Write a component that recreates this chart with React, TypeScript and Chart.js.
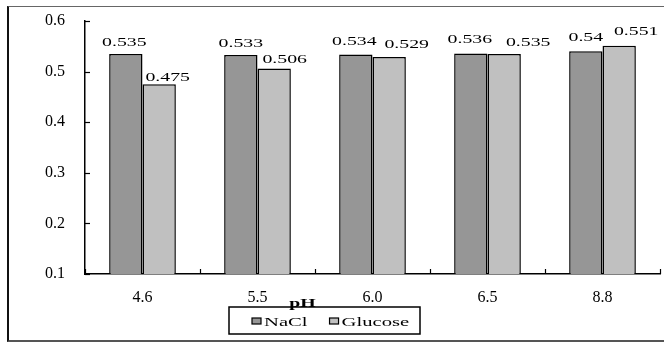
import React, { useEffect, useRef } from "react";
import { Chart, registerables } from "chart.js";

Chart.register(...registerables);

const categories = ["4.6", "5.5", "6.0", "6.5", "8.8"];
const naclValues = [0.535, 0.533, 0.534, 0.536, 0.54];
const glucoseValues = [0.475, 0.506, 0.529, 0.535, 0.551];
const naclLabels = ["0.535", "0.533", "0.534", "0.536", "0.54"];
const glucoseLabels = ["0.475", "0.506", "0.529", "0.535", "0.551"];
const yMin = 0.1;
const yMax = 0.6;
const yStep = 0.1;
const xTitle = "pH";

const SERIF = "'Liberation Serif', 'Times New Roman', serif";
const STRETCH = 1.65;

// hand-placed label nudges (as in the source chart): [dx, gap above bar top]
const labelNudges = [
  [
    [-1.5, 8],
    [0, 8],
    [-1.5, 9],
    [-1, 10],
    [0, 10],
  ],
  [
    [8.5, 3.5],
    [10.5, 6],
    [17.5, 9],
    [24, 8],
    [17, 10.5],
  ],
];

function stretchedText(
  ctx: CanvasRenderingContext2D,
  text: string,
  x: number,
  y: number,
  size: number,
  align: "left" | "center",
  bold = false
) {
  ctx.save();
  ctx.font = `${bold ? "bold " : ""}${size}px ${SERIF}`;
  ctx.fillStyle = "#000";
  ctx.textBaseline = "alphabetic";
  ctx.textAlign = "left";
  const w = ctx.measureText(text).width * STRETCH;
  const left = align === "center" ? x - w / 2 : x;
  ctx.translate(left, y);
  ctx.scale(STRETCH, 1);
  ctx.fillText(text, 0, 0);
  ctx.restore();
  return w;
}

const decorPlugin = {
  id: "decor",
  afterDraw(chart: any) {
    const ctx: CanvasRenderingContext2D = chart.ctx;
    const xs = chart.scales.x;
    const ys = chart.scales.y;
    const area = chart.chartArea;
    ctx.save();
    ctx.strokeStyle = "#000";
    ctx.lineWidth = 1.2;
    ys.ticks.forEach((t: any) => {
      const py = Math.round(ys.getPixelForValue(t.value)) + 0.5;
      ctx.beginPath();
      ctx.moveTo(area.left, py);
      ctx.lineTo(area.left + 5, py);
      ctx.stroke();
    });
    const n = categories.length;
    const catW = xs.getPixelForValue(1) - xs.getPixelForValue(0);
    for (let i = 0; i <= n; i++) {
      const px = i < n ? xs.getPixelForValue(i) - catW / 2 : area.right;
      ctx.beginPath();
      ctx.moveTo(Math.round(px) + 0.5, area.bottom);
      ctx.lineTo(Math.round(px) + 0.5, area.bottom - 5);
      ctx.stroke();
    }
    ctx.restore();

    const sets = [naclLabels, glucoseLabels];
    sets.forEach((labels, di) => {
      const meta = chart.getDatasetMeta(di);
      meta.data.forEach((bar: any, i: number) => {
        const [dx, gap] = labelNudges[di][i];
        stretchedText(ctx, labels[i], bar.x + dx, bar.y - gap, 12, "center");
      });
    });

    // legend
    const box = { left: 229, top: 307, right: 420, bottom: 334 };
    ctx.save();
    ctx.fillStyle = "#fff";
    ctx.fillRect(box.left, box.top, box.right - box.left, box.bottom - box.top);
    ctx.strokeStyle = "#000";
    ctx.lineWidth = 1.5;
    ctx.strokeRect(box.left, box.top, box.right - box.left, box.bottom - box.top);
    ctx.restore();
    let cx = box.left + 23;
    chart.data.datasets.forEach((ds: any) => {
      ctx.save();
      ctx.fillStyle = ds.backgroundColor;
      ctx.strokeStyle = "#000";
      ctx.lineWidth = 1.2;
      ctx.fillRect(cx, 318, 9, 6);
      ctx.strokeRect(cx, 318, 9, 6);
      ctx.restore();
      const w = stretchedText(ctx, ds.label, cx + 12, 326, 12.5, "left");
      cx += 12 + w + 22;
    });

    // axis title
    const titleX = area.left + (area.right - area.left) * 0.378;
    stretchedText(ctx, xTitle, titleX, area.bottom + 33, 12, "center", true);
  },
};

export default function App() {
  const ref = useRef<HTMLCanvasElement>(null);
  useEffect(() => {
    const chart = new Chart(ref.current!, {
      type: "bar",
      data: {
        labels: categories,
        datasets: [
          {
            label: "NaCl",
            data: naclValues,
            backgroundColor: "#969696",
            borderColor: "#000",
            borderWidth: 1.5,
            barPercentage: 1,
            categoryPercentage: 0.58,
          },
          {
            label: "Glucose",
            data: glucoseValues,
            backgroundColor: "#c0c0c0",
            borderColor: "#000",
            borderWidth: 1.5,
            barPercentage: 1,
            categoryPercentage: 0.58,
          },
        ],
      },
      options: {
        animation: false,
        responsive: false,
        devicePixelRatio: 1,
        layout: { padding: { left: 0, right: 4, top: 21, bottom: 29 } },
        plugins: { legend: { display: false }, tooltip: { enabled: false } },
        scales: {
          x: {
            grid: { display: false, drawTicks: false },
            border: { display: true, color: "#000", width: 1.5 },
            ticks: {
              color: "#000",
              padding: 14,
              font: { family: SERIF, size: 16 },
              maxRotation: 0,
            },
            afterFit: (s: any) => {
              s.height = 40;
              s.paddingLeft = 0;
              s.paddingRight = 0;
            },
          },
          y: {
            min: yMin,
            max: yMax,
            grid: { display: false, drawTicks: false },
            border: { display: true, color: "#000", width: 1.5 },
            ticks: {
              stepSize: yStep,
              color: "#000",
              padding: 20,
              font: { family: SERIF, size: 16 },
              callback: (v: any) => Number(v).toFixed(1),
            },
            afterFit: (s: any) => {
              s.width = 85;
              s.paddingTop = 0;
              s.paddingBottom = 0;
            },
          },
        },
      },
      plugins: [decorPlugin],
    });
    return () => chart.destroy();
  }, []);

  return (
    <div style={{ position: "fixed", left: 0, top: 0, width: 664, height: 343, background: "#fff" }}>
      <div
        style={{
          position: "absolute",
          left: 7,
          top: 6,
          width: 670,
          height: 333,
          borderLeft: "2px solid #111",
          borderTop: "1.5px solid #666",
          borderBottom: "2px solid #555",
        }}
      />
      <canvas
        ref={ref}
        width={664}
        height={343}
        style={{ position: "absolute", left: 0, top: 0, width: 664, height: 343 }}
      />
    </div>
  );
}
